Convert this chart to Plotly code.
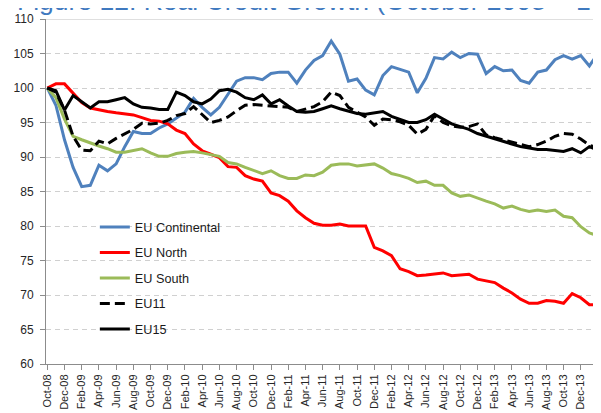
import plotly.graph_objects as go

months = ["Oct-08", "Nov-08", "Dec-08", "Jan-09", "Feb-09", "Mar-09", "Apr-09", "May-09", "Jun-09", "Jul-09",
          "Aug-09", "Sep-09", "Oct-09", "Nov-09", "Dec-09", "Jan-10", "Feb-10", "Mar-10", "Apr-10", "May-10",
          "Jun-10", "Jul-10", "Aug-10", "Sep-10", "Oct-10", "Nov-10", "Dec-10", "Jan-11", "Feb-11", "Mar-11",
          "Apr-11", "May-11", "Jun-11", "Jul-11", "Aug-11", "Sep-11", "Oct-11", "Nov-11", "Dec-11", "Jan-12",
          "Feb-12", "Mar-12", "Apr-12", "May-12", "Jun-12", "Jul-12", "Aug-12", "Sep-12", "Oct-12", "Nov-12",
          "Dec-12", "Jan-13", "Feb-13", "Mar-13", "Apr-13", "May-13", "Jun-13", "Jul-13", "Aug-13", "Sep-13",
          "Oct-13", "Nov-13", "Dec-13", "Jan-14", "Feb-14"]

tick_labels = months[::2]

eu_continental = [100, 97.5, 92.5, 88.5, 85.7, 85.9, 88.8, 88.0, 89.0, 91.5,
                  93.7, 93.4, 93.4, 94.2, 94.8, 95.6, 96.5, 98.5, 97.2, 96.1,
                  97.2, 99.1, 101.0, 101.5, 101.5, 101.2, 102.1, 102.3, 102.3, 100.7,
                  102.6, 104.0, 104.7, 106.8, 104.9, 101.0, 101.3, 99.7, 99.0, 101.8,
                  103.1, 102.7, 102.3, 99.3, 101.4, 104.4, 104.2, 105.2, 104.4, 105.0,
                  104.9, 102.1, 103.1, 102.5, 102.6, 101.1, 100.7, 102.3, 102.6, 104.1,
                  104.7, 104.2, 104.7, 103.2, 105.0]

eu_north = [100, 100.6, 100.6, 99.3, 97.9, 97.1, 96.8, 96.6, 96.4, 96.3,
            96.1, 95.7, 95.3, 95.2, 94.8, 93.9, 93.4, 91.9, 90.9, 90.4,
            89.9, 88.6, 88.5, 87.3, 86.8, 86.5, 84.8, 84.4, 83.6, 82.2,
            81.2, 80.4, 80.1, 80.1, 80.3, 80.0, 80.0, 80.0, 76.9, 76.4,
            75.7, 73.8, 73.4, 72.8, 72.9, 73.1, 73.2, 72.8, 72.9, 73.0,
            72.3, 72.0, 71.8, 71.0, 70.3, 69.4, 68.8, 68.8, 69.2, 69.1,
            68.8, 70.2, 69.6, 68.6, 68.6]

eu_south = [100, 98.6, 95.5, 93.0, 92.5, 92.0, 91.6, 91.2, 90.7, 90.7,
            91.0, 91.2, 90.6, 90.1, 90.1, 90.5, 90.7, 90.8, 90.6, 90.3,
            90.1, 89.2, 89.0, 88.5, 88.0, 87.6, 88.0, 87.3, 86.9, 86.9,
            87.4, 87.3, 87.8, 88.8, 89.0, 89.0, 88.7, 88.8, 89.0, 88.4,
            87.6, 87.3, 86.9, 86.3, 86.5, 85.9, 85.9, 84.8, 84.3, 84.5,
            84.0, 83.6, 83.2, 82.6, 82.9, 82.4, 82.1, 82.3, 82.1, 82.3,
            81.4, 81.2, 79.9, 79.0, 78.6]

eu11 = [100, 99.4, 96.8, 93.0, 91.0, 90.9, 92.3, 91.9, 92.7, 93.3,
        94.0, 94.9, 94.8, 94.9, 95.3, 96.0, 96.3, 97.3, 96.2, 95.0,
        95.3, 95.8, 96.7, 97.5, 97.6, 97.5, 97.3, 97.2, 97.2, 96.6,
        96.9, 97.3, 98.0, 99.4, 98.9, 97.2, 96.5, 95.8, 94.6, 95.5,
        95.4, 95.1, 94.6, 93.3, 94.0, 96.0, 95.0, 94.5, 94.3, 94.4,
        94.8, 93.2, 92.8, 92.5, 92.2, 91.8, 91.5, 91.8, 92.3, 93.0,
        93.4, 93.3, 92.6, 91.7, 91.3]

eu15 = [100, 99.6, 96.8, 98.9, 98.0, 97.1, 98.0, 98.0, 98.3, 98.6,
        97.7, 97.2, 97.1, 96.9, 96.9, 99.4, 98.9, 98.0, 97.7, 98.4,
        99.6, 99.8, 99.4, 98.6, 98.3, 99.0, 97.7, 98.3, 97.4, 96.6,
        96.5, 96.6, 97.0, 97.4, 97.0, 96.6, 96.3, 96.2, 96.4, 96.6,
        95.9, 95.4, 95.0, 95.0, 95.4, 96.2, 95.5, 94.8, 94.4, 94.0,
        93.4, 93.0, 92.6, 92.2, 91.9, 91.5, 91.3, 91.1, 91.1, 91.0,
        90.8, 91.2, 90.6, 91.5, 91.0]

series = [
    ("EU Continental", eu_continental, "#4F81BD", "solid"),
    ("EU North", eu_north, "#FF0000", "solid"),
    ("EU South", eu_south, "#9BBB59", "solid"),
    ("EU11", eu11, "#000000", "10px,5px"),
    ("EU15", eu15, "#000000", "solid"),
]

fig = go.Figure()
for name, vals, color, dash in series:
    fig.add_trace(go.Scatter(
        x=months, y=vals, mode="lines", name=name, legendgroup=name,
        line=dict(color=color, width=3, dash=dash),
    ))

font_family = "Liberation Sans, Arial, sans-serif"

fig.update_layout(
    width=601, height=413,
    margin=dict(l=38, r=8, t=11, b=57, pad=0),
    paper_bgcolor="white", plot_bgcolor="white",
    font=dict(family=font_family, color="#262626"),
    showlegend=True,
    legend=dict(
        x=0.088, y=0.44, xanchor="left", yanchor="top",
        bgcolor="rgba(0,0,0,0)", font=dict(size=12.7, color="#1a1a1a", family=font_family),
        traceorder="grouped", tracegroupgap=6,
    ),
    xaxis=dict(
        type="category", range=[-0.15, 64.35],
        tickmode="array", tickvals=tick_labels, ticktext=tick_labels,
        tickangle=-90, tickfont=dict(size=11, color="#262626"),
        showline=True, linecolor="#8C8C8C", linewidth=1,
        ticks="outside", ticklen=5, tickcolor="#8C8C8C",
        showgrid=False, zeroline=False, automargin=False,
    ),
    yaxis=dict(
        range=[60, 110], tickmode="linear", tick0=60, dtick=5,
        tickfont=dict(size=12, color="#262626"),
        showline=True, linecolor="#8C8C8C", linewidth=1,
        ticks="outside", ticklen=5, tickcolor="#8C8C8C",
        showgrid=True, gridcolor="#D0D0D0", gridwidth=1, griddash="5px,4px",
        zeroline=False, ticklabelstandoff=4, automargin=False,
    ),
    annotations=[dict(
        text="Figure 12: Real Credit Growth (October 2008 = 100)",
        xref="paper", yref="paper", x=-31 / 555, y=1.0525,
        xanchor="left", yanchor="middle", showarrow=False,
        font=dict(size=26.5, color="#3F79BF", family=font_family),
    )],
    shapes=[dict(type="line", xref="paper", yref="y", x0=0, x1=1, y0=110, y1=110,
                 line=dict(color="#BFBFBF", width=1))],
)

fig.write_html("out.html")
